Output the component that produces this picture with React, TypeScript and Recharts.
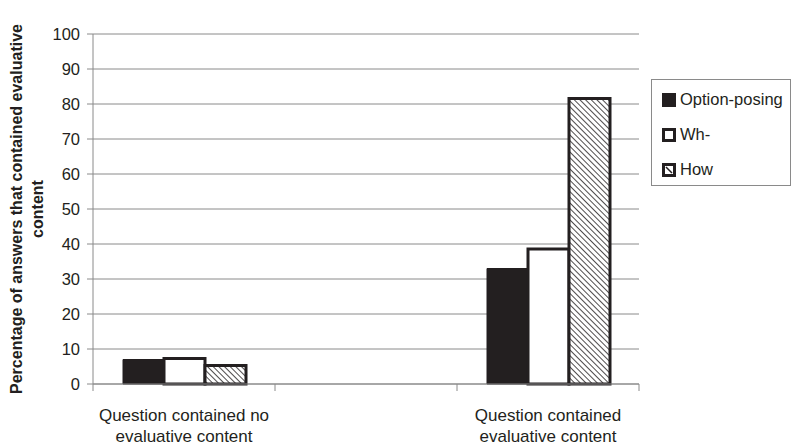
import React from 'react';
import { BarChart, Bar, XAxis, YAxis, CartesianGrid, Legend } from 'recharts';

const categories = ['Question contained no\nevaluative content', '', 'Question contained\nevaluative content'];
const optionPosing = [7, null, 33];
const whQuestions = [7.3, null, 38.6];
const howQuestions = [5.3, null, 81.6];
const yTicks = [0, 10, 20, 30, 40, 50, 60, 70, 80, 90, 100];
const yTitle = ['Percentage of answers that contained  evaluative', 'content'];
const seriesNames = ['Option-posing', 'Wh-', 'How'];

const data = categories.map((name, i) => ({
  name,
  option: optionPosing[i],
  wh: whQuestions[i],
  how: howQuestions[i],
}));

const INK = '#231f20';
const GRID = '#8a8a8a';
const FONT = '"Liberation Sans", Arial, sans-serif';

function CategoryTick(props: any) {
  const { x, y, payload, index, visibleTicksCount } = props;
  const half = payload.offset ?? 91;
  const lines = String(payload.value).split('\n');
  const isLast = index === visibleTicksCount - 1;
  return (
    <g>
      <line x1={x - half} x2={x - half} y1={y} y2={y + 7} stroke={GRID} />
      {isLast && <line x1={x + half} x2={x + half} y1={y} y2={y + 7} stroke={GRID} />}
      <text x={x} y={y + 37} textAnchor="middle" fontSize={17} fill={INK} fontFamily={FONT}>
        {lines.map((l, i) => (
          <tspan key={i} x={x} dy={i === 0 ? 0 : 21}>{l}</tspan>
        ))}
      </text>
    </g>
  );
}

function YTitle() {
  return (
    <text transform="translate(0,209) rotate(-90)" textAnchor="middle" fontSize={16} fontWeight="bold" fill={INK} fontFamily={FONT}>
      <tspan x={0} y={22}>{yTitle[0]}</tspan>
      <tspan x={0} y={43}>{yTitle[1]}</tspan>
    </text>
  );
}

function LegendIcon({ kind }: { kind: number }) {
  return (
    <svg width={14} height={14} style={{ display: 'block' }}>
      {kind === 0 && <rect x={0} y={0} width={14} height={14} fill={INK} />}
      {kind === 1 && <rect x={1.5} y={1.5} width={11} height={11} fill="#fff" stroke={INK} strokeWidth={3} />}
      {kind === 2 && (
        <g>
          <rect x={1.5} y={1.5} width={11} height={11} fill="#fff" stroke={INK} strokeWidth={3} />
          <line x1={4} y1={4} x2={10} y2={10} stroke={INK} strokeWidth={1.5} />
        </g>
      )}
    </svg>
  );
}

function LegendBox() {
  return (
    <div
      style={{
        border: `1px solid ${GRID}`,
        width: 140,
        height: 107,
        boxSizing: 'border-box',
        padding: '10px 0 0 10px',
        fontFamily: FONT,
        fontSize: 16.5,
        color: INK,
        background: '#fff',
      }}
    >
      {seriesNames.map((n, i) => (
        <div key={n} style={{ display: 'flex', alignItems: 'center', height: 35, marginTop: i === 0 ? -8 : 0 }}>
          <LegendIcon kind={i} />
          <span style={{ marginLeft: 4 }}>{n}</span>
        </div>
      ))}
    </div>
  );
}

export default function App() {
  return (
    <div style={{ position: 'absolute', left: 0, top: 0, width: 800, height: 445, background: '#fff' }}>
      <BarChart
        width={800}
        height={445}
        data={data}
        margin={{ top: 34, right: 161, bottom: 0, left: 0 }}
        barGap={0}
        barSize={41}
      >
        <defs>
          <pattern id="hatch" patternUnits="userSpaceOnUse" width={4} height={4} patternTransform="rotate(45)">
            <rect width={4} height={4} fill="#fff" />
            <line x1={0} y1={0} x2={4} y2={0} stroke={INK} strokeWidth={1.6} />
          </pattern>
        </defs>
        <CartesianGrid vertical={false} stroke={GRID} />
        <XAxis
          dataKey="name"
          height={61}
          axisLine={{ stroke: GRID }}
          tickLine={false}
          tickSize={0}
          tickMargin={0}
          interval={0}
          tick={<CategoryTick />}
        />
        <YAxis
          width={93}
          domain={[0, 100]}
          ticks={yTicks}
          interval={0}
          tickSize={6}
          tickMargin={7}
          axisLine={{ stroke: GRID }}
          tickLine={{ stroke: GRID }}
          tick={{ fontSize: 16.5, fill: INK, fontFamily: FONT }}
          label={<YTitle />}
        />
        <YAxis yAxisId="frame" orientation="right" width={0} tick={false} tickLine={false} axisLine={{ stroke: GRID }} />
        <Legend
          layout="vertical"
          align="center"
          verticalAlign="middle"
          wrapperStyle={{ left: 651, top: 79, width: 140, height: 107 }}
          content={() => <LegendBox />}
        />
        <Bar dataKey="option" name={seriesNames[0]} fill={INK} stroke={INK} strokeWidth={1} isAnimationActive={false} />
        <Bar dataKey="wh" name={seriesNames[1]} fill="#fff" stroke={INK} strokeWidth={3} isAnimationActive={false} />
        <Bar dataKey="how" name={seriesNames[2]} fill="url(#hatch)" stroke={INK} strokeWidth={3} isAnimationActive={false} />
      </BarChart>
    </div>
  );
}
